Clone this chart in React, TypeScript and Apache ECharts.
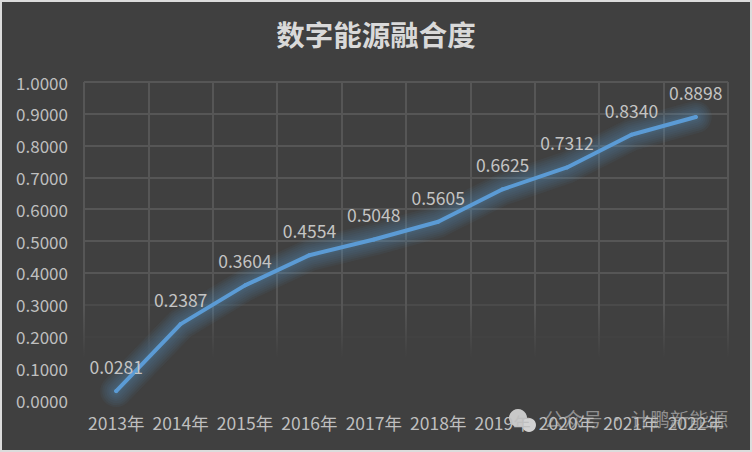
import React, { useEffect, useRef } from "react";
import * as echarts from "echarts";

const years = ["2013年", "2014年", "2015年", "2016年", "2017年", "2018年", "2019年", "2020年", "2021年", "2022年"];
const values = [0.0281, 0.2387, 0.3604, 0.4554, 0.5048, 0.5605, 0.6625, 0.7312, 0.834, 0.8898];
const titleText = "数字能源融合度";
const watermark = "公众号 · 计鹏新能源";
const glowWidths = [32, 28, 24, 20, 16, 12, 8];
const FONT = '"Noto Sans CJK SC", "Noto Sans", sans-serif';

export default function App() {
  const ref = useRef<HTMLDivElement>(null);
  useEffect(() => {
    document.body.style.margin = "0";
    document.body.style.background = "#dcdcdc";
    const chart = echarts.init(ref.current!, null, { renderer: "svg" });
    const gridCol = "#565656";
    const glowSeries = glowWidths.map((w) => ({
      type: "line",
      data: values,
      symbol: "none",
      silent: true,
      z: 1,
      lineStyle: { color: "rgba(91,155,213,0.055)", width: w, cap: "round", join: "round" },
    }));
    chart.setOption({
      animation: false,
      backgroundColor: "#404040",
      title: {
        text: titleText,
        left: "center",
        top: 12,
        textStyle: { color: "#d9d9d9", fontSize: 28.5, fontWeight: "bold", fontFamily: FONT },
      },
      grid: { left: 82, right: 22, top: 80, bottom: 50 },
      xAxis: {
        type: "category",
        data: years,
        axisLine: { show: false },
        axisTick: { show: false },
        axisLabel: { color: "#bfbfbf", fontSize: 17.5, margin: 14, fontFamily: FONT, interval: 0 },
        splitLine: {
          show: true,
          interval: 0,
          lineStyle: {
            width: 2,
            color: new echarts.graphic.LinearGradient(0, 80, 0, 400, [
              { offset: 0, color: gridCol },
              { offset: 0.7, color: gridCol },
              { offset: 0.86, color: "#404040" },
              { offset: 1, color: "#404040" },
            ], true),
          },
        },
      },
      yAxis: {
        type: "value",
        min: 0,
        max: 1,
        interval: 0.1,
        axisLine: { show: false },
        axisTick: { show: false },
        axisLabel: {
          color: "#bfbfbf",
          fontSize: 17,
          margin: 16,
          fontFamily: FONT,
          formatter: (v: number) => v.toFixed(4),
        },
        splitLine: {
          show: true,
          lineStyle: {
            width: 2,
            color: ["#404040", "#404040", "#424242", "#4a4a4a", gridCol, gridCol, gridCol, gridCol, gridCol, gridCol, gridCol],
          },
        },
      },
      series: [
        ...glowSeries,
        {
          type: "line",
          data: values,
          symbol: "circle",
          symbolSize: 4,
          z: 3,
          itemStyle: { color: "#5b9bd5" },
          lineStyle: { color: "#5b9bd5", width: 4, cap: "round", join: "round" },
          label: {
            show: true,
            position: "top",
            distance: 14,
            color: "#c4c4c4",
            fontSize: 17.5,
            fontFamily: FONT,
            formatter: (p: any) => Number(p.value).toFixed(4),
          },
        },
      ],
      graphic: [
        { type: "circle", shape: { cx: 516, cy: 416, r: 9 }, style: { fill: "#c8c8c8" }, silent: true },
        { type: "circle", shape: { cx: 527, cy: 423, r: 7 }, style: { fill: "#d2d2d2" }, silent: true },
        {
          type: "text",
          x: 542,
          y: 407,
          style: { text: watermark, fill: "rgba(200,200,200,0.6)", fontSize: 19.5, fontFamily: FONT },
          silent: true,
        },
      ],
    });
    return () => chart.dispose();
  }, []);
  return (
    <div style={{ width: 752, height: 452, boxSizing: "border-box", padding: 2 }}>
      <div ref={ref} style={{ width: 748, height: 448 }} />
    </div>
  );
}
